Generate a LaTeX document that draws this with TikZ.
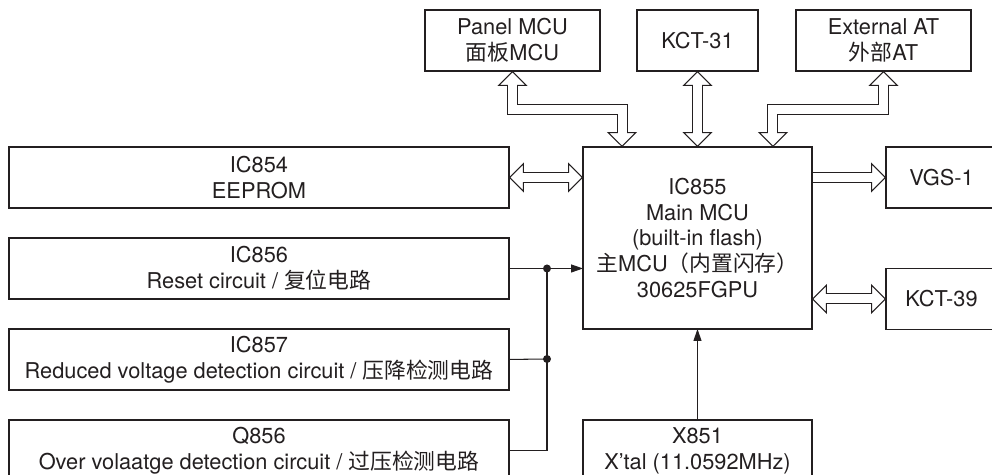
\documentclass[tikz,border=0pt]{standalone}
\usepackage{fontspec}
\setmainfont{TeX Gyre Heros}
\newfontfamily\cjk{Noto Sans CJK SC}
\usetikzlibrary{arrows.meta,positioning,calc}
\definecolor{ink}{HTML}{231F20}
\tikzset{>={Triangle[length=2.4mm,width=1.6mm]},
  Bus/.tip={Triangle[length=3mm 0,width=6mm 0,line width=0.6pt 0,fill=white]},
  box/.style={draw=ink,line width=1.1pt,align=center,inner sep=2pt,outer sep=0pt,
    font=\fontsize{12.4}{14.7}\selectfont,text=ink,minimum height=1.22cm},
  wire/.style={ink,line width=0.6pt},
  busrim/.style={ink,line width=0.22cm},
  buscore/.style={white,line width=0.18cm,shorten <=2.2mm,shorten >=2.2mm},
  dot/.style={circle,fill=ink,inner sep=0pt,minimum size=1.6mm}}
% hollow bus arrow: dark rim first, white core on top
\newcommand\busarrow[3][]{%
  \draw[busrim,#2] #3;
  \draw[buscore,#1] #3;}

\begin{document}
\begin{tikzpicture}[x=0.02cm,y=-0.02cm,node distance=6mm]
  \useasboundingbox (0,0) rectangle (992,475);
  \clip (0,0) rectangle (992,475);
  % top row
  \node[box,minimum width=3.5cm] (panel) at (512.5,40.5) {Panel MCU\\{\cjk 面板}MCU};
  \node[box,minimum width=2.42cm] (kct31) at (697.5,40.5) {KCT-31};
  \node[box,minimum width=3.5cm] (extat) at (883.5,40.5) {External AT\\{\cjk 外部}AT};
  % main
  \node[box,minimum width=4.58cm,minimum height=3.64cm] (main) at (697.5,238)
    {IC855\\Main MCU\\(built-in flash)\\{\cjk 主}MCU{\cjk （内置闪存）}\\30625FGPU};
  % left column
  \node[box,minimum width=10cm] (ic854) at (259,177.5) {IC854\\EEPROM};
  \node[box,minimum width=10cm,below=of ic854] (ic856) {IC856\\Reset circuit / {\cjk 复位电路}};
  \node[box,minimum width=10cm,below=of ic856] (ic857)
    {IC857\\Reduced voltage detection circuit / {\cjk 压降检测电路}};
  \node[box,minimum width=10cm,below=of ic857] (q856)
    {Q856\\Over volaatge detection circuit / {\cjk 过压检测电路}};
  % right and bottom
  \node[box,minimum width=2.22cm] (vgs) at (941.5,177.5) {VGS-1};
  \node[box,minimum width=2.22cm] (kct39) at (941.5,299) {KCT-39};
  \node[box,minimum width=4.58cm] (xtal) at (697.5,450.5) {X851\\X’tal (11.0592MHz)};

  \node[dot] (j1) at (547,268.5) {};
  \node[dot] (j2) at (547,359) {};

  \draw[wire,->] (ic856.east) -- (ic856.east -| main.west);
  \draw[wire] (ic857.east) -- (j2.center);
  \draw[wire] (q856.east) -| (j1.center);
  \draw[wire,->] (xtal.north) -- (main.south);

  \busarrow{{Bus}-{Bus}}{(panel.south) -- ++(0,39) -| ($(main.north west)+(39,0)$)}
  \busarrow{{Bus}-{Bus}}{(kct31.south) -- (kct31.south |- main.north)}
  \busarrow{{Bus}-{Bus}}{(extat.south) -- ++(0,39) -| ($(main.north east)+(-39,0)$)}
  \busarrow{{Bus}-{Bus}}{(ic854.east) -- (ic854.east -| main.west)}
  \busarrow[shorten <=0.8pt]{-{Bus}}{(main.east |- vgs.west) -- (vgs.west)}
  \busarrow{{Bus}-{Bus}}{(main.east |- kct39.west) -- (kct39.west)}
\end{tikzpicture}
\end{document}
